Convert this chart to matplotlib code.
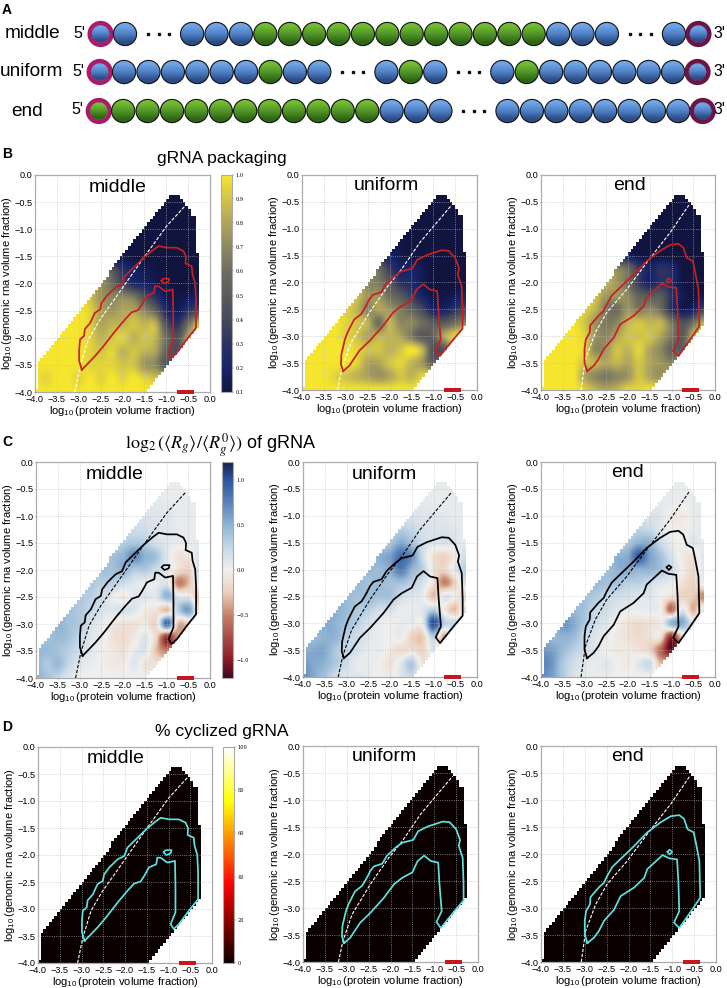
import matplotlib
matplotlib.use('Agg')
import matplotlib.pyplot as plt
import numpy as np
from matplotlib.colors import LinearSegmentedColormap
from matplotlib.patches import Circle, PathPatch, Rectangle
from matplotlib.path import Path

W, H = 727, 988

variants = ['middle', 'uniform', 'end']
tick_vals = [-4.0, -3.5, -3.0, -2.5, -2.0, -1.5, -1.0, -0.5, 0.0]

# bead sequences of panel A: r = ring+blue, q = ring+green, b = blue, g = green, . = gap with dots
seq_middle = 'rb.bbbggggggggggggbbb.bR'
seq_uniform = 'rbbbbbbgbb.bgb.bgbbbbbbR'
seq_end = 'qgggggggggggbbb.bbbbbbbbR'

# gRNA packaging fraction, rows y = 0 .. -4, cols x = -4 .. 0 (step 0.25)
pack_middle = [
    [1, 1, 1, 1, 1, 1, .1, .1, .1, .1, .1, .1, .1, .1, .1, .1, .1],
    [1, 1, 1, 1, 1, 1, .1, .1, .1, .1, .1, .1, .1, .1, .1, .1, .1],
    [1, 1, 1, 1, 1, 1, .1, .1, .1, .1, .1, .1, .1, .1, .1, .1, .1],
    [1, 1, 1, 1, 1, 1, .1, .1, .1, .1, .1, .1, .1, .1, .1, .1, .1],
    [1, 1, 1, 1, 1, 1, .1, .1, .1, .1, .1, .1, .1, .1, .1, .1, .1],
    [1, 1, 1, 1, 1, 1, .2, .15, .12, .1, .1, .1, .1, .1, .1, .1, .1],
    [1, 1, 1, 1, 1, 1, .3, .15, .12, .1, .1, .1, .1, .1, .1, .1, .1],
    [1, 1, 1, 1, 1, .9, .75, .5, .3, .2, .15, .12, .1, .1, .1, .1, .1],
    [1, 1, 1, 1, 1, .9, .75, .6, .4, .25, .2, .15, .12, .1, .1, .12, .1],
    [1, 1, 1, 1, 1, .9, .75, .7, .7, .65, .45, .3, .15, .12, .15, .2, .2],
    [1, 1, 1, 1, 1, .95, .8, .75, .8, .8, .7, .55, .25, .15, .3, .4, .4],
    [1, 1, 1, 1, 1, .95, .8, .85, .85, .9, .85, .85, .45, .3, .6, .9, .9],
    [1, 1, 1, 1, 1, .95, .85, .9, .95, .85, .9, .85, .6, .45, .8, .95, 1],
    [1, 1, 1, 1, 1, .95, .9, .95, .85, .9, .85, .8, .55, .45, .85, 1, 1],
    [1, 1, 1, 1, 1, .95, .95, .95, .9, .9, .75, .7, .5, .6, 1, 1, 1],
    [1, .95, 1, 1, .95, 1, .95, 1, .95, 1, .95, .9, .9, 1, 1, 1, 1],
    [1, 1, 1, 1, 1, 1, 1, 1, 1, 1, 1, 1, 1, 1, 1, 1, 1],
]
pack_uniform = [
    [1, 1, 1, 1, 1, 1, .1, .1, .1, .1, .1, .1, .1, .1, .1, .1, .1],
    [1, 1, 1, 1, 1, 1, .1, .1, .1, .1, .1, .1, .1, .1, .1, .1, .1],
    [1, 1, 1, 1, 1, 1, .1, .1, .1, .1, .1, .1, .1, .1, .1, .1, .1],
    [1, 1, 1, 1, 1, 1, .1, .1, .1, .1, .1, .1, .1, .1, .1, .1, .1],
    [1, 1, 1, 1, 1, 1, .1, .1, .1, .1, .1, .1, .1, .1, .1, .1, .1],
    [1, 1, 1, 1, 1, 1, .4, .2, .15, .12, .1, .1, .1, .1, .1, .1, .1],
    [1, 1, 1, 1, 1, 1, .5, .3, .2, .15, .12, .1, .1, .1, .1, .1, .1],
    [1, 1, 1, 1, 1, .9, .75, .6, .35, .2, .2, .15, .1, .1, .1, .1, .1],
    [1, 1, 1, 1, 1, .85, .7, .65, .5, .3, .25, .15, .1, .1, .1, .1, .1],
    [1, 1, 1, 1, 1, .9, .75, .75, .6, .5, .35, .2, .12, .12, .15, .2, .2],
    [1, 1, 1, 1, .95, .85, .7, .8, .75, .65, .55, .4, .2, .2, .3, .4, .4],
    [1, 1, 1, 1, .95, .9, .85, .6, .85, .7, .7, .6, .5, .5, .6, .7, .7],
    [1, 1, 1, 1, .95, .9, .8, .85, .85, .8, .65, .5, .55, .8, .95, 1, 1],
    [1, 1, 1, 1, 1, .95, .9, .9, .85, .9, 1, .85, .45, .5, .9, 1, 1],
    [1, 1, 1, 1, 1, .95, .8, .8, .9, .95, .85, .75, .55, .7, 1, 1, 1],
    [1, 1, 1, .95, .9, .85, .8, .75, .8, .9, .85, .95, 1, 1, 1, 1, 1],
    [1, 1, 1, 1, 1, 1, 1, 1, 1, 1, 1, 1, 1, 1, 1, 1, 1],
]
pack_end = [
    [1, 1, 1, 1, 1, 1, .1, .1, .1, .1, .1, .1, .1, .1, .1, .1, .1],
    [1, 1, 1, 1, 1, 1, .1, .1, .1, .1, .1, .1, .1, .1, .1, .1, .1],
    [1, 1, 1, 1, 1, 1, .1, .1, .1, .1, .1, .1, .1, .1, .1, .1, .1],
    [1, 1, 1, 1, 1, 1, .1, .1, .1, .1, .1, .1, .1, .1, .1, .1, .1],
    [1, 1, 1, 1, 1, 1, .1, .1, .1, .1, .1, .1, .1, .1, .1, .1, .1],
    [1, 1, 1, 1, 1, 1, .5, .2, .12, .1, .1, .1, .1, .1, .1, .1, .1],
    [1, 1, 1, 1, 1, 1, .7, .35, .2, .12, .1, .1, .1, .1, .1, .1, .1],
    [1, 1, 1, 1, 1, .95, .85, .7, .6, .35, .2, .3, .25, .12, .1, .1, .1],
    [1, 1, 1, 1, 1, .9, .85, .75, .6, .35, .2, .3, .25, .12, .1, .1, .1],
    [1, 1, 1, 1, .95, .9, .75, .75, .7, .55, .5, .5, .3, .15, .1, .15, .15],
    [1, 1, 1, 1, .95, .85, .65, .6, .75, .65, .7, .6, .3, .15, .2, .4, .4],
    [1, 1, 1, 1, .9, .75, .65, .7, .85, .9, .85, .85, .65, .45, .6, .85, .85],
    [1, 1, 1, 1, .95, .75, .7, .8, .9, .9, .9, .8, .65, .5, .85, .95, 1],
    [1, 1, 1, 1, .95, .7, .75, .9, .85, .95, .8, .7, .55, .55, .9, 1, 1],
    [1, 1, 1, 1, .9, .85, .8, .85, .8, .9, .8, .75, .7, .8, 1, 1, 1],
    [1, 1, 1, 1, .8, .7, .65, .7, .75, .9, .8, .75, .9, 1, 1, 1, 1],
    [1, 1, 1, 1, .95, .85, .8, .85, .95, .95, 1, 1, 1, 1, 1, 1, 1],
]

# log2 Rg ratio, same grid
rg_middle = [
    [0, 0, 0, 0, 0, 0, 0, 0, 0, 0, 0, 0, .03, .03, .03, .03, 0],
    [0, 0, 0, 0, 0, 0, 0, 0, 0, 0, 0, .03, .03, .03, .03, .03, 0],
    [0, 0, 0, 0, 0, 0, 0, 0, 0, 0, .05, .05, .03, .03, .03, .03, 0],
    [0, 0, 0, 0, 0, 0, 0, 0, 0, .08, .08, .08, .05, .05, .05, .05, 0],
    [0, 0, 0, 0, 0, 0, 0, 0, .1, .12, .12, .1, .1, .05, .05, .05, 0],
    [0, 0, 0, 0, 0, 0, .1, .15, .2, .2, .18, .12, .1, .05, .05, .05, 0],
    [0, 0, 0, 0, 0, .1, .15, .2, .3, .35, .3, .15, .1, .05, .05, .05, 0],
    [0, 0, 0, 0, .1, .15, .25, .4, .5, .7, .5, .4, .1, -.1, -.05, .15, .1],
    [0, 0, 0, .1, .2, .25, .4, .4, .5, .35, .35, .2, .1, -.1, -.2, .2, .1],
    [0, 0, .1, .25, .3, .35, .3, .3, .2, .1, .05, .05, .1, -.5, -.3, .1, .1],
    [0, .1, .3, .35, .35, .3, .2, .05, -.05, .1, .1, .1, .5, .1, .05, -.35, -.3],
    [.15, .35, .45, .4, .35, .25, .15, .1, .15, .1, -.05, -.1, -.3, .3, .6, -.2, 0],
    [.4, .4, .5, .4, .35, .15, .05, -.05, -.1, -.1, -.05, -.15, .9, -.3, -.2, 0, 0],
    [.4, .4, .45, .4, .25, .1, .05, -.1, -.15, -.05, .1, -.2, -.9, -.4, -.1, 0, 0],
    [.45, .45, .4, .3, .2, .1, 0, -.05, -.1, .05, .1, -.3, -.5, -.2, 0, 0, 0],
    [.5, .35, .45, .25, .1, .05, 0, -.05, -.05, .1, -.1, -.1, -.1, 0, 0, 0, 0],
    [.5, .4, .25, .1, 0, 0, 0, 0, 0, 0, 0, 0, 0, 0, 0, 0, 0],
]
rg_uniform = [
    [0, 0, 0, 0, 0, 0, 0, 0, 0, 0, 0, 0, .03, .03, .03, .03, 0],
    [0, 0, 0, 0, 0, 0, 0, 0, 0, 0, 0, .03, .05, .05, .05, .05, 0],
    [0, 0, 0, 0, 0, 0, 0, 0, 0, 0, .05, .05, .05, .05, .05, .05, 0],
    [0, 0, 0, 0, 0, 0, 0, 0, 0, .08, .08, .08, .05, .05, .05, .05, 0],
    [0, 0, 0, 0, 0, 0, 0, 0, .1, .12, .12, .1, .1, .08, .05, .05, 0],
    [0, 0, 0, 0, 0, 0, .1, .15, .2, .3, .25, .15, .12, .12, .1, .05, 0],
    [0, 0, 0, 0, 0, .1, .2, .25, .35, .55, .4, .2, .1, .15, .1, .05, 0],
    [0, 0, 0, 0, .1, .2, .35, .5, .6, .85, .7, .2, -.1, -.2, -.05, .2, .1],
    [0, 0, 0, .1, .2, .3, .45, .45, .55, .8, .5, .3, -.1, -.2, .1, .3, .1],
    [0, 0, .1, .25, .35, .45, .4, .45, .4, .4, .3, .15, -.1, -.5, -.2, .2, .1],
    [0, .1, .3, .4, .45, .4, .45, .4, .4, .2, .1, .05, -.3, .1, 0, -.2, 0],
    [.2, .35, .45, .5, .45, .35, .3, .2, .15, .05, .05, .1, .3, -.05, -.3, .2, 0],
    [.45, .5, .55, .5, .4, .3, .15, .05, 0, .05, .05, .05, 1.05, .3, .25, .1, 0],
    [.45, .45, .5, .5, .3, .2, .1, .05, 0, .05, -.2, -.25, .3, -.4, .2, 0, 0],
    [.5, .55, .55, .35, .25, .15, .05, .05, -.05, -.15, -.1, -.2, .1, -.3, 0, 0, 0],
    [.65, .55, .5, .35, .2, .05, .05, 0, -.1, .1, .35, -.1, -.05, 0, 0, 0, 0],
    [.7, .55, .4, .2, .1, .1, .05, 0, -.05, .1, .2, 0, 0, 0, 0, 0, 0],
]
rg_end = [
    [0, 0, 0, 0, 0, 0, 0, 0, 0, 0, 0, 0, .03, .03, .03, .03, 0],
    [0, 0, 0, 0, 0, 0, 0, 0, 0, 0, 0, .05, .05, .03, .03, .03, 0],
    [0, 0, 0, 0, 0, 0, 0, 0, 0, 0, .05, .05, .05, .03, .03, .03, 0],
    [0, 0, 0, 0, 0, 0, 0, 0, 0, .08, .08, .08, .05, .03, .05, .05, 0],
    [0, 0, 0, 0, 0, 0, 0, 0, .1, .12, .12, .1, -.05, -.05, .05, .05, 0],
    [0, 0, 0, 0, 0, 0, .1, .18, .22, .28, .22, .1, 0, -.03, .05, .05, 0],
    [0, 0, 0, 0, 0, .1, .2, .25, .35, .5, .5, .2, .05, 0, .1, .05, 0],
    [0, 0, 0, 0, .1, .2, .35, .5, .55, .95, .6, .4, .15, -.05, -.1, .1, .1],
    [0, 0, 0, .1, .2, .35, .4, .5, .55, .5, .5, .4, .2, 0, -.15, .1, .1],
    [0, 0, .1, .25, .35, .45, .4, .4, .3, .3, .2, .1, .05, -.1, -.2, .05, .05],
    [0, .1, .35, .4, .4, .35, .25, .2, .15, .1, .1, 0, -.1, -.2, -.25, -.5, -.4],
    [.2, .35, .45, .45, .4, .25, .2, .1, .05, .05, .05, 0, -.6, .1, -.35, .1, .1],
    [.4, .4, .65, .55, .35, .2, .1, 0, -.1, -.15, -.1, -.05, .5, .55, .1, .05, 0],
    [.5, .45, .5, .45, .25, .1, .05, -.05, -.1, -.15, -.1, -.1, -.9, -.2, 0, 0, 0],
    [.65, .6, .45, .3, .2, .1, 0, -.05, -.05, -.1, -.2, -.6, -1.1, -.4, 0, 0, 0],
    [.75, .65, .35, .2, .1, .05, .1, 0, -.05, .1, .2, -.3, -.1, 0, 0, 0, 0],
    [.7, .6, .35, .15, .05, .05, .05, 0, 0, 0, 0, 0, 0, 0, 0, 0, 0],
]

# percent cyclized reads zero everywhere
cyclized = [[0, 0], [0, 0]]

# outer contour of the condensate region per sequence
contour_x_middle = [-2.93, -2.99, -2.99, -2.97, -2.88, -2.86, -2.74, -2.63, -2.51, -2.48, -2.36, -2.17, -2.02, -1.94, -1.75, -1.52, -1.33, -1.18, -0.99, -0.76, -0.61, -0.55, -0.56, -0.42, -0.40, -0.34, -0.32, -0.32, -0.53, -0.76, -0.88, -0.95, -0.84, -0.84, -0.85, -1.03, -1.18, -1.26, -1.28, -1.45, -1.56, -1.64, -1.79, -1.94, -2.17, -2.44, -2.63, -2.82, -2.93]
contour_y_middle = [-3.59, -3.43, -3.22, -3.03, -2.97, -2.84, -2.73, -2.54, -2.48, -2.36, -2.23, -2.08, -2.02, -1.86, -1.71, -1.53, -1.40, -1.31, -1.34, -1.34, -1.40, -1.50, -1.63, -1.68, -1.83, -1.99, -2.30, -2.82, -3.03, -3.28, -3.37, -3.28, -3.06, -2.60, -2.11, -2.14, -2.05, -2.05, -2.17, -2.23, -2.39, -2.49, -2.53, -2.66, -2.88, -3.16, -3.34, -3.50, -3.59]
contour_x_uniform = [-3.06, -3.11, -3.10, -3.02, -2.96, -2.81, -2.65, -2.54, -2.46, -2.38, -2.19, -2.08, -1.88, -1.73, -1.48, -1.37, -1.15, -0.81, -0.65, -0.50, -0.41, -0.44, -0.35, -0.33, -0.33, -0.54, -0.85, -0.95, -0.83, -0.88, -0.91, -1.08, -1.23, -1.38, -1.50, -1.73, -1.92, -2.15, -2.46, -2.69, -2.92, -3.06]
contour_y_uniform = [-3.65, -3.52, -3.34, -3.06, -2.93, -2.69, -2.59, -2.44, -2.31, -2.23, -2.18, -2.03, -1.88, -1.79, -1.74, -1.58, -1.49, -1.40, -1.41, -1.54, -1.74, -1.85, -2.07, -2.56, -2.86, -3.06, -3.37, -3.26, -3.06, -2.56, -2.16, -2.13, -2.03, -2.13, -2.34, -2.44, -2.56, -2.81, -3.09, -3.27, -3.55, -3.65]
contour_x_end = [-2.94, -3.00, -3.00, -2.97, -2.88, -2.87, -2.68, -2.56, -2.49, -2.37, -2.10, -1.87, -1.57, -1.26, -1.03, -0.84, -0.73, -0.65, -0.51, -0.46, -0.38, -0.36, -0.57, -0.84, -0.96, -0.84, -0.86, -0.89, -1.07, -1.22, -1.57, -1.64, -1.87, -2.18, -2.33, -2.56, -2.68, -2.79, -2.94]
contour_y_end = [-3.65, -3.49, -3.24, -3.06, -2.93, -2.80, -2.62, -2.53, -2.41, -2.24, -2.03, -1.85, -1.60, -1.41, -1.30, -1.28, -1.35, -1.54, -1.60, -1.79, -2.13, -2.81, -3.06, -3.37, -3.27, -3.06, -2.50, -2.10, -2.08, -2.02, -2.28, -2.44, -2.62, -2.78, -3.03, -3.24, -3.43, -3.55, -3.65]

# small closed islands (no island for uniform)
island_x_middle = [-1.11, -1.07, -0.93, -0.95, -1.05, -1.11]
island_y_middle = [-1.95, -1.91, -1.91, -1.97, -2.00, -1.95]
island_x_end = [-1.11, -1.06, -1.00, -1.06, -1.11]
island_y_end = [-1.96, -1.92, -1.96, -2.01, -1.96]

# dashed reference line per sequence
dash_x_middle = [-3.09, -2.97, -2.78, -2.51, -2.13, -1.52, -0.99, -0.57]
dash_y_middle = [-4.0, -3.53, -3.03, -2.66, -2.23, -1.53, -0.94, -0.57]
dash_x_uniform = [-3.19, -3.09, -2.88, -2.46, -2.04, -1.73, -1.31, -0.58]
dash_y_uniform = [-4.0, -3.62, -3.12, -2.56, -2.07, -1.76, -1.26, -0.56]
dash_x_end = [-3.08, -2.98, -2.75, -2.49, -2.03, -1.57, -1.03, -0.60]
dash_y_end = [-4.0, -3.43, -2.93, -2.56, -2.13, -1.63, -1.07, -0.56]

# outline of the sampled phase-diagram region
domain_x = [-4.0, -3.94, -3.9375, -0.9, -0.72, -0.56, -0.47, -0.40, -0.32, -0.31, -0.25]
domain_top = [-3.95, -3.95, -3.46, -0.38, -0.36, -0.5, -0.65, -0.78, -0.78, -1.46, -1.46]
domain_bottom_x = [-4.0, -1.45, -0.30, -0.25]
domain_bottom_y = [-4.0, -4.0, -2.80, -2.80]

plt.rcParams['font.family'] = ['Liberation Sans', 'DejaVu Sans']
plt.rcParams['mathtext.fontset'] = 'custom'
plt.rcParams['mathtext.rm'] = 'Liberation Sans'
plt.rcParams['mathtext.it'] = 'Liberation Sans:italic'
plt.rcParams['mathtext.bf'] = 'Liberation Sans:bold'

# colour ramps
pack_cmap = LinearSegmentedColormap.from_list('pack', [
    '#11143f', '#16246a', '#2c3260', '#46485c', '#5a5a5c', '#6e6d5f', '#8c8860', '#aea45a', '#d0c44a', '#f5e52f'])
rg_cmap = LinearSegmentedColormap.from_list('rg', [
    (0.0, '#3b0a1e'), (0.083, '#8a1a28'), (0.29, '#c48068'), (0.396, '#ecd0bc'), (0.5, '#f1f0ee'),
    (0.604, '#c6d8e8'), (0.708, '#90b4d4'), (0.813, '#5a82b9'), (0.917, '#2f55a0'), (1.0, '#15234f')])

fig = plt.figure(figsize=(W / 100, H / 100), dpi=100)


def px_axes(left, top, right, bottom):
    return fig.add_axes([left / W, 1 - bottom / H, (right - left) / W, (bottom - top) / H])


def domain_path():
    # staircase outline, one step per simulated grid column
    step = 0.0625
    cols = np.arange(-4.0, -0.25, step)
    top = np.round(np.interp(cols + step / 2, domain_x, domain_top) / step) * step
    bot = np.round(np.interp(cols + step / 2, domain_bottom_x, domain_bottom_y) / step) * step
    verts = []
    for x, t in zip(cols, top):
        verts += [(x, t), (x + step, t)]
    for x, b in zip(cols[::-1], bot[::-1]):
        verts += [(x + step, b), (x, b)]
    verts.append(verts[0])
    return Path(verts)


def draw_phase(box, grid, cmap, vmin, vmax, variant, cont_color, dash_color):
    ax = px_axes(*box)
    grid = np.array(grid, dtype=float)
    half_x = 2.0 / (grid.shape[1] - 1)
    half_y = 2.0 / (grid.shape[0] - 1)
    # catrom passes through the grid values, agg's bicubic flattens the peaks
    im = ax.imshow(grid, cmap=cmap, vmin=vmin, vmax=vmax, aspect='auto', interpolation='catrom',
                   extent=(-4 - half_x, half_x, -4 - half_y, half_y), zorder=1)
    patch = PathPatch(domain_path(), transform=ax.transData, facecolor='none', edgecolor='none')
    ax.add_patch(patch)
    im.set_clip_path(patch)
    ax.set_xlim(-4, 0)
    ax.set_ylim(-4, 0)

    ax.set_xticks(tick_vals)
    ax.set_yticks(tick_vals)
    ax.tick_params(labelsize=6.6, length=1, width=0.4, pad=1, color='#888888')
    ax.grid(True, ls=':', lw=0.6, color='#bbbbbb', alpha=0.8, zorder=2)
    ax.set_axisbelow(False)
    for s in ax.spines.values():
        s.set_color('#aaaaaa')
        s.set_linewidth(0.9)
    ax.set_xlabel(r'$\log_{10}$(protein volume fraction)', fontsize=8, labelpad=0)
    ax.set_ylabel(r'$\log_{10}$(genomic rna volume fraction)', fontsize=8, labelpad=0)

    ax.plot(globals()['dash_x_' + variant], globals()['dash_y_' + variant], color=dash_color,
            ls=(0, (3, 1.5)), lw=0.8, zorder=3)
    ax.plot(globals()['contour_x_' + variant], globals()['contour_y_' + variant], color=cont_color, lw=1.25, zorder=4)
    if variant != 'uniform':
        ax.plot(globals()['island_x_' + variant], globals()['island_y_' + variant], color=cont_color, lw=1.2, zorder=4)

    # red scale bar sitting on the x axis
    ax.add_patch(Rectangle((-0.75, -4.03), 0.39, 0.075, color='#c9161c', clip_on=False, zorder=5, lw=0))
    return im


def draw_cbar(im, box, ticks):
    cax = px_axes(*box)
    cb = fig.colorbar(im, cax=cax)
    cb.set_ticks(ticks)
    cb.ax.tick_params(labelsize=3.6, length=1.5, width=0.3, pad=1, color='#555555', labelfontfamily='DejaVu Serif')
    cb.outline.set_edgecolor('#aaaaaa')
    cb.outline.set_linewidth(0.8)


# overlay in pixel coordinates for panel A and all free text
over = fig.add_axes([0, 0, 1, 1], zorder=10)
over.set_xlim(0, W)
over.set_ylim(H, 0)
over.axis('off')

blue_grad = LinearSegmentedColormap.from_list('b', ['#6ea5e6', '#4f80c4', '#2b4c86'])
green_grad = LinearSegmentedColormap.from_list('g', ['#72bc30', '#52952a', '#2d6612'])
ramp = [[0.0], [0.5], [1.0]]


def bead(x, y, kind, ring=None):
    r = 11.6
    cmap = green_grad if kind == 'g' else blue_grad
    if ring:
        r = 9.0
    im = over.imshow(ramp, cmap=cmap, extent=(x - r, x + r, y + r, y - r), aspect='auto', interpolation='bilinear', zorder=2)
    im.set_clip_path(Circle((x, y), r, transform=over.transData))
    if ring:
        over.add_patch(Circle((x, y), 10.9, fill=False, edgecolor=ring, lw=3.2, zorder=3))
    else:
        over.add_patch(Circle((x, y), r, fill=False, edgecolor='#111111', lw=0.8, zorder=3))


def draw_row(seq, x0, y):
    x = x0
    spacing = 24.4
    for c in seq:
        if c == '.':
            x += 1.75 * spacing
            over.plot([x - 44, x - 33.5, x - 23], [y, y, y], ls='none', marker='s', ms=2, color='#111111', zorder=3)
            continue
        if c == 'r':
            bead(x, y, 'b', ring='#a81c68')
        elif c == 'q':
            bead(x, y, 'g', ring='#a81c68')
        elif c == 'R':
            bead(x, y, 'b', ring='#6b1545')
        else:
            bead(x, y, c)
        x += spacing


for seq, x0, y in zip([seq_middle, seq_uniform, seq_end], [100.6, 99.7, 98.8], [34, 72, 111]):
    draw_row(seq, x0, y)
over.set_xlim(0, W)
over.set_ylim(H, 0)

for name, x, y in zip(variants, [32, 31.5, 27], [34, 72, 111]):
    over.text(x, y, name, fontsize=13.7, ha='center', va='center')
for x, y in zip([79, 78, 77], [34, 72, 110]):
    over.text(x, y, "5'", fontsize=11.5, ha='center', va='center')
for x, y in zip([719, 719, 719], [34, 72, 110]):
    over.text(x, y, "3'", fontsize=11.5, ha='center', va='center')

for letter, x, y in zip('ABCD', [7, 7, 7, 7], [10, 154, 442, 727]):
    over.text(x, y, letter, fontsize=10, fontweight='bold', ha='center', va='center')

over.text(222, 158, 'gRNA packaging', fontsize=12.6, ha='center', va='center')
over.text(221, 445, r'$\log_2(\langle R_g\rangle/\langle R_g^0\rangle)$ of gRNA', fontsize=13, ha='center', va='center',
          math_fontfamily='stix')
over.text(222, 731, '% cyclized gRNA', fontsize=12.6, ha='center', va='center')

boxes_b = [(35, 175, 210, 392), (302, 175, 477, 390), (541, 175, 715, 390)]
boxes_c = [(36, 462, 210, 678), (303, 462, 477, 677), (541, 462, 715, 677)]
boxes_d = [(38, 747, 212, 963), (303, 746, 478, 962), (541, 746, 716, 962)]

title_b = [(118, 188), (386, 186), (630, 186)]
title_c = [(115, 474), (384, 474), (627, 472)]
title_d = [(116, 758), (384, 756), (627, 756)]

for box, grid, var, tp in zip(boxes_b, [pack_middle, pack_uniform, pack_end], variants, title_b):
    im_b = draw_phase(box, grid, pack_cmap, 0.1, 1.0, var, '#c8201f', 'white')
    if var == 'middle':
        first_b = im_b
    over.text(tp[0], tp[1], var, fontsize=14, ha='center', va='center')
for box, grid, var, tp in zip(boxes_c, [rg_middle, rg_uniform, rg_end], variants, title_c):
    im_c = draw_phase(box, grid, rg_cmap, -1.2, 1.2, var, 'black', 'black')
    if var == 'middle':
        first_c = im_c
    over.text(tp[0], tp[1], var, fontsize=14, ha='center', va='center')
for box, var, tp in zip(boxes_d, variants, title_d):
    im_d = draw_phase(box, cyclized, 'hot', 0, 100, var, '#5fe0e0', 'white')
    if var == 'middle':
        first_d = im_d
    over.text(tp[0], tp[1], var, fontsize=14, ha='center', va='center')

draw_cbar(first_b, (221, 175, 232, 392), [.1, .2, .3, .4, .5, .6, .7, .8, .9, 1.0])
draw_cbar(first_c, (222, 462, 233, 678), [-1.0, -0.5, 0.0, 0.5, 1.0])
draw_cbar(first_d, (223, 747, 234, 963), [0, 20, 40, 60, 80, 100])

fig.savefig('out.png', dpi=100)
